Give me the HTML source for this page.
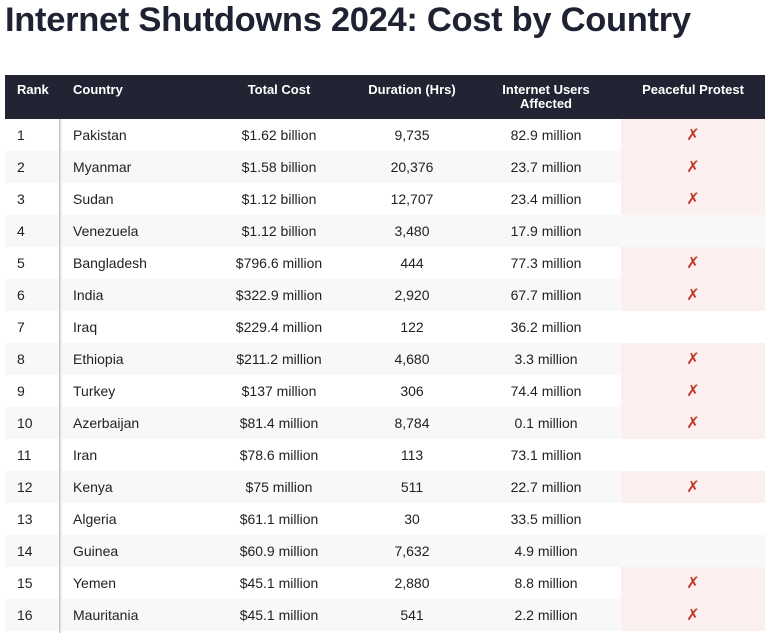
<!DOCTYPE html>
<html><head><meta charset="utf-8"><style>
body{margin:0;width:770px;height:633px;background:#fff;font-family:"Liberation Sans",sans-serif;color:#1f2233;position:relative;overflow:hidden}
h1{position:absolute;left:5px;top:1px;margin:0;font-size:34.5px;font-weight:bold;color:#1f2233;letter-spacing:-0.3px;white-space:nowrap}
table{position:absolute;left:5px;top:75px;width:760px;border-collapse:collapse;table-layout:fixed}
th{background:#222433;color:#fff;font-size:13px;font-weight:bold;height:36px;vertical-align:top;padding:8px 4px 0;line-height:14px;box-sizing:content-box}
td{height:32px;padding:0 4px;font-size:14px;color:#222}
tbody tr:nth-child(even) td{background:#f8f8f8}
tbody td.p{background:#fbeff0 !important;color:#c0392b;font-size:16px}
.c{text-align:center}.l{text-align:left}
td.r{padding-left:12px}
#shadow{position:absolute;left:59px;top:119px;width:3px;height:514px;background:linear-gradient(to right,#bbb,#eee 70%,transparent)}
</style></head><body>
<h1>Internet Shutdowns 2024: Cost by Country</h1>
<table>
<colgroup><col style="width:56px"><col style="width:144px"><col style="width:148px"><col style="width:118px"><col style="width:150px"><col style="width:144px"></colgroup>
<thead><tr>
<th class="l" style="padding-left:12px">Rank</th>
<th class="l" style="padding-left:12px">Country</th>
<th class="c">Total Cost</th>
<th class="c">Duration (Hrs)</th>
<th class="c">Internet Users Affected</th>
<th class="c">Peaceful Protest</th>
</tr></thead>
<tbody id="tb"></tbody></table>
<div id="shadow"></div>
<script>
const countries=["Pakistan","Myanmar","Sudan","Venezuela","Bangladesh","India","Iraq","Ethiopia","Turkey","Azerbaijan","Iran","Kenya","Algeria","Guinea","Yemen","Mauritania"];
const costs=["$1.62 billion","$1.58 billion","$1.12 billion","$1.12 billion","$796.6 million","$322.9 million","$229.4 million","$211.2 million","$137 million","$81.4 million","$78.6 million","$75 million","$61.1 million","$60.9 million","$45.1 million","$45.1 million"];
const durations=["9,735","20,376","12,707","3,480","444","2,920","122","4,680","306","8,784","113","511","30","7,632","2,880","541"];
const users=["82.9 million","23.7 million","23.4 million","17.9 million","77.3 million","67.7 million","36.2 million","3.3 million","74.4 million","0.1 million","73.1 million","22.7 million","33.5 million","4.9 million","8.8 million","2.2 million"];
const protest=[1,1,1,0,1,1,0,1,1,1,0,1,0,0,1,1];
const tb=document.getElementById('tb');
countries.forEach((c,i)=>{
const tr=document.createElement('tr');


tr.innerHTML='<td class="l r">'+(i+1)+'</td><td class="l r">'+c+'</td><td class="c">'+costs[i]+'</td><td class="c">'+durations[i]+'</td><td class="c">'+users[i]+'</td><td class="c'+(protest[i]?' p':'')+'">'+(protest[i]?'✗':'')+'</td>';
tb.appendChild(tr);
});
</script>
</body></html>
